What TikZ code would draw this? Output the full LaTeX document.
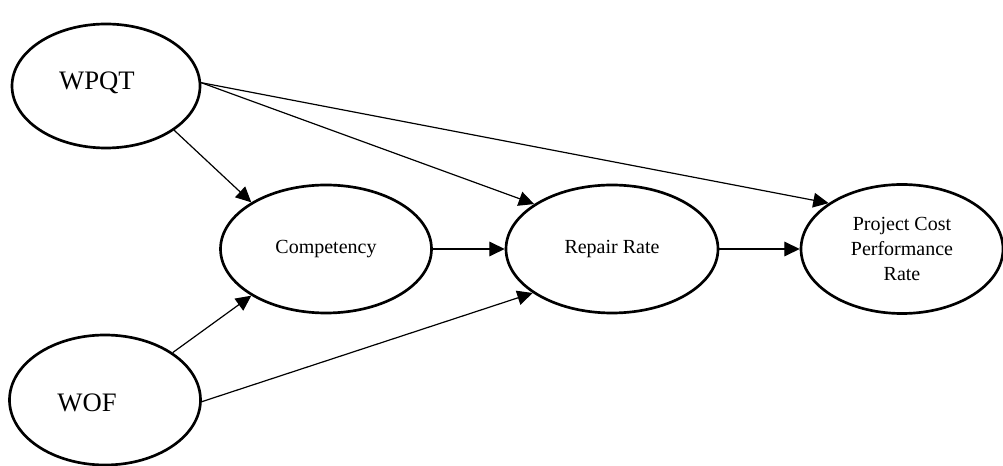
\documentclass[tikz,border=0pt]{standalone}
\usepackage{fontspec}
\setmainfont{Liberation Serif}
\usetikzlibrary{shapes.geometric,arrows.meta}

\begin{document}
\begin{tikzpicture}[x=0.75pt,y=-0.75pt]
\tikzstyle{every node}=[font=\fontsize{15}{18.4}\selectfont]
\tikzstyle{latent}=[draw,ellipse,line width=2pt,inner sep=0pt]
\tikzstyle{bigtext}=[font=\fontsize{20}{24}\selectfont]
\tikzstyle{link}=[line width=0.9pt,-{Triangle[length=11.5pt,width=11pt]}]

\useasboundingbox (0,0) rectangle (1003,466);

\node[latent,minimum width=141pt,minimum height=93pt] (WPQT) at (106,86) {};
\node[latent,minimum width=143.25pt,minimum height=97.5pt] (WOF) at (105,400) {};
\node[latent,minimum width=158.25pt,minimum height=96pt] (Competency) at (326,249) {Competency};
\node[latent,minimum width=159pt,minimum height=96pt] (RepairRate) at (612,249) {Repair Rate};
\node[latent,minimum width=151.5pt,minimum height=96.75pt,align=center] (ProjectCost) at (902,249) {Project Cost\\Performance\\Rate};

\node[bigtext] (WPQTLabel) at (97,83) {WPQT};
\node[bigtext] (WOFLabel) at (87,403) {WOF};

\draw[link] (WPQT.-33) -- (Competency.148.5);
\draw[link] (WPQT.2.4) -- (RepairRate.150.3);
\draw[link] (WPQT.2.4) -- (ProjectCost.148);
\draw[link] (WOF.35) -- (Competency.212);
\draw[link] (WOF.-1) -- (RepairRate.209.7);
\draw[link] (Competency.east) -- (RepairRate.west);
\draw[link] (RepairRate.east) -- (ProjectCost.west);
\end{tikzpicture}
\end{document}
